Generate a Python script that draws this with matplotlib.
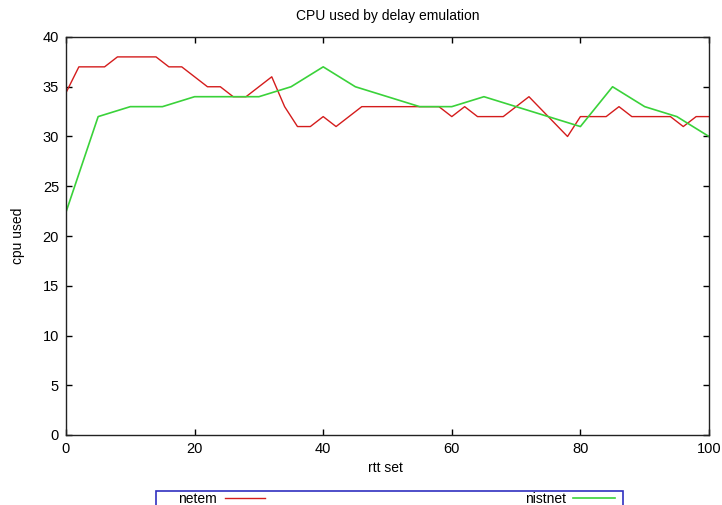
import matplotlib
matplotlib.use("Agg")
import matplotlib.pyplot as plt
from matplotlib.patches import Rectangle

plt.rcParams['font.family'] = ['Liberation Sans', 'DejaVu Sans']

# netem series (vertices)
netem_x = [0, 2, 6, 8, 14, 16, 18, 22, 24, 26, 28, 32, 34, 36, 38, 40, 42, 46,
           58, 60, 62, 64, 68, 72, 78, 80, 84, 86, 88, 94, 96, 98, 100]
netem_y = [34.4, 37, 37, 38, 38, 37, 37, 35, 35, 34, 34, 36, 33, 31, 31, 32, 31, 33,
           33, 32, 33, 32, 32, 34, 30, 32, 32, 33, 32, 32, 31, 32, 32]

# nistnet series
nistnet_x = [0, 5, 10, 15, 20, 25, 30, 35, 40, 45, 50, 55, 60, 65, 70, 75, 80, 85, 90, 95, 100]
nistnet_y = [22.4, 32, 33, 33, 34, 34, 34, 35, 37, 35, 34, 33, 33, 34, 33, 32, 31, 35, 33, 32, 30]

title = "CPU used by delay emulation"
xlabel = "rtt set"
ylabel = "cpu used"
xticks = [0, 20, 40, 60, 80, 100]
yticks = [0, 5, 10, 15, 20, 25, 30, 35, 40]

W, H = 722, 505
fig = plt.figure(figsize=(W / 100, H / 100), dpi=100)
ax = fig.add_axes([66 / W, 1 - 435 / H, (709 - 66) / W, (435 - 37) / H])

red = '#d41c1c'
green = '#3ad23a'
l1, = ax.plot(netem_x, netem_y, color=red, lw=1.0)
l2, = ax.plot(nistnet_x, nistnet_y, color=green, lw=1.2)

ax.set_xlim(0, 100)
ax.set_ylim(0, 40)
ax.set_xticks(xticks)
ax.set_yticks(yticks)
ax.tick_params(direction='in', length=4, width=1, top=True, right=True,
               labelsize=10.5, colors='black', pad=5)
for s in ax.spines.values():
    s.set_linewidth(1.0)
    s.set_color('#222222')

fig.text(387.5 / W, 1 - 16 / H, title, ha='center', va='center', fontsize=10)
fig.text(385 / W, 1 - 468 / H, xlabel, ha='center', va='center', fontsize=10)
fig.text(18 / W, 1 - 236 / H, ylabel, ha='center', va='center', fontsize=10, rotation=90)

# legend box (gnuplot style, cut by the bottom of the image)
fig.patches.append(Rectangle((156 / W, -0.02), (623 - 156) / W, 0.02 + (505 - 491) / H,
                             transform=fig.transFigure, fill=False,
                             edgecolor='#3030c0', lw=1.2))
fig.legend([l1], ['netem'], loc='center left', bbox_to_anchor=(178 / W, 1 - 499 / H),
           frameon=False, markerfirst=False, fontsize=10, handlelength=2.9,
           handletextpad=0.6, borderpad=0, borderaxespad=0)
fig.legend([l2], ['nistnet'], loc='center left', bbox_to_anchor=(525 / W, 1 - 499 / H),
           frameon=False, markerfirst=False, fontsize=10, handlelength=3.0,
           handletextpad=0.5, borderpad=0, borderaxespad=0)

fig.savefig('out.png', dpi=100)
